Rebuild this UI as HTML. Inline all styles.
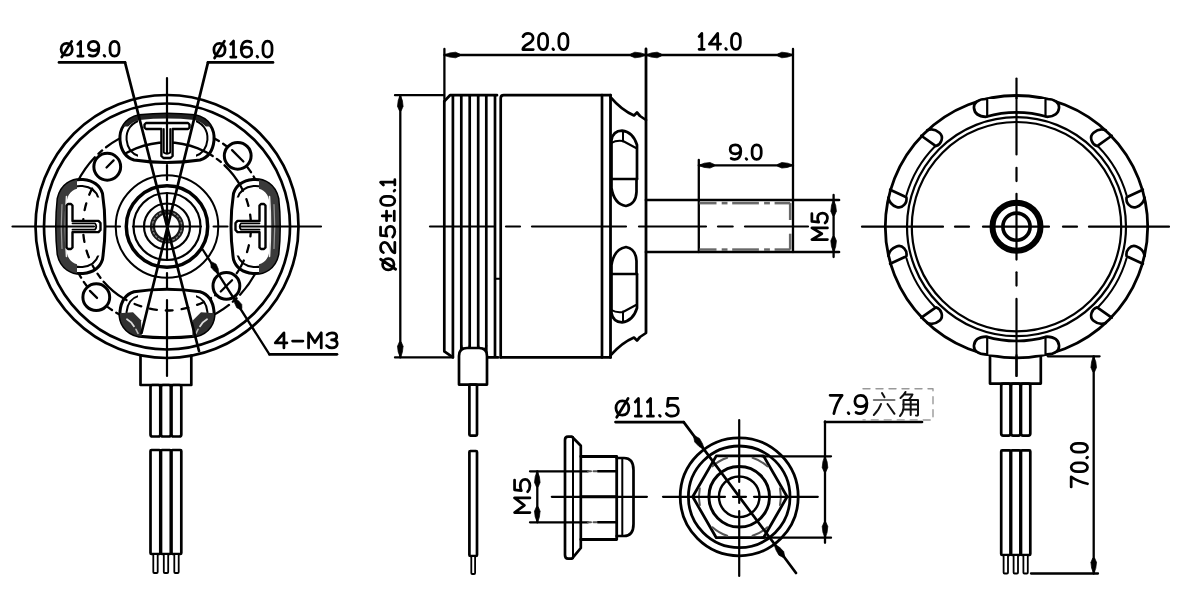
<!DOCTYPE html>
<html><head><meta charset="utf-8"><style>
html,body{margin:0;padding:0;background:#fff;width:1200px;height:602px;overflow:hidden}
svg{display:block}
</style></head><body>
<svg width="1200" height="602" viewBox="0 0 1200 602" stroke="#000" fill="none" stroke-linecap="round" stroke-linejoin="round">
<defs><clipPath id="lc0"><path d="M139 115.5Q167 112.5 195 115.5C209 118.5 215 129.5 214 140.5C213 150.5 208 157.5 200 160Q167 165 134 160C126 157.5 121 150.5 120 140.5C119 129.5 125 118.5 139 115.5Z"/></clipPath><clipPath id="sc0"><path d="M97 166.5 138 166.5 138 106.5 97 106.5ZM237 166.5 196 166.5 196 106.5 237 106.5Z"/></clipPath><clipPath id="hc0"><path d="M107 126.5 227 126.5 227 86.5 107 86.5Z"/></clipPath><clipPath id="lc1"><path d="M58 254.5Q55 226.5 58 198.5C61 184.5 72 178.5 83 179.5C93 180.5 100 185.5 102.5 193.5Q107.5 226.5 102.5 259.5C100 267.5 93 272.5 83 273.5C72 274.5 61 268.5 58 254.5Z"/></clipPath><clipPath id="sc1"><path d="M109 296.5 109 255.5 49 255.5 49 296.5ZM109 156.5 109 197.5 49 197.5 49 156.5Z"/></clipPath><clipPath id="hc1"><path d="M77 286.5 77 166.5 29 166.5 29 286.5Z"/></clipPath><clipPath id="lc2"><path d="M278 198.5Q281 226.5 278 254.5C275 268.5 264 274.5 253 273.5C243 272.5 236 267.5 233.5 259.5Q228.5 226.5 233.5 193.5C236 185.5 243 180.5 253 179.5C264 178.5 275 184.5 278 198.5Z"/></clipPath><clipPath id="sc2"><path d="M227 156.5 227 197.5 287 197.5 287 156.5ZM227 296.5 227 255.5 287 255.5 287 296.5Z"/></clipPath><clipPath id="hc2"><path d="M259 166.5 259 286.5 307 286.5 307 166.5Z"/></clipPath><clipPath id="lc3"><path d="M195 336.3Q167 339.3 139 336.3C125 333.3 119 322.3 120 311.3C121 301.3 126 294.3 134 291.8Q167 286.8 200 291.8C208 294.3 213 301.3 214 311.3C215 322.3 209 333.3 195 336.3Z"/></clipPath><clipPath id="sc3"><path d="M237 285.3 196 285.3 196 345.3 237 345.3ZM97 285.3 138 285.3 138 345.3 97 345.3Z"/></clipPath></defs>
<circle cx="167" cy="226.5" r="131.5" stroke-width="2.7" fill="none" />
<circle cx="167" cy="226.5" r="123" stroke-width="2.7" fill="none" />
<circle cx="167" cy="226.5" r="100" stroke-width="2.3" fill="none" stroke-dasharray="30 5 5 5"/>
<path d="M85.86 204.76A84 84 0 1 0 145.26 145.36" stroke-width="2.3" fill="none" stroke-dasharray="26 5 5 5"/>
<path d="M139 115.5Q167 112.5 195 115.5C209 118.5 215 129.5 214 140.5C213 150.5 208 157.5 200 160Q167 165 134 160C126 157.5 121 150.5 120 140.5C119 129.5 125 118.5 139 115.5Z" stroke-width="3.0" fill="#fff" />
<g clip-path="url(#sc0)"><path d="M142.92 119.46Q167 117 191.08 119.46C203.12 121.92 208.28 130.94 207.42 139.96C206.56 148.16 202.26 153.9 195.38 155.95Q167 160.05 138.62 155.95C131.74 153.9 127.44 148.16 126.58 139.96C125.72 130.94 130.88 121.92 142.92 119.46Z" stroke-width="2" fill="none"/></g>
<g clip-path="url(#lc0)"><g clip-path="url(#hc0)"><path d="M139 115.5Q167 112.5 195 115.5C209 118.5 215 129.5 214 140.5C213 150.5 208 157.5 200 160Q167 165 134 160C126 157.5 121 150.5 120 140.5C119 129.5 125 118.5 139 115.5Z" stroke-width="9" fill="none" stroke="#222"/></g></g>
<g clip-path="url(#lc0)"><circle cx="167" cy="226.5" r="84" stroke-width="2.3" fill="none"/></g>
<path d="M146 123L188 123L189.5 124.5L189.5 127.5L188 129L172.6 129L172.6 156L170.5 158L163.5 158L161.4 156L161.4 129L146 129L144.5 127.5L144.5 124.5Z" stroke-width="2.4" fill="#fff" />
<path d="M163.8 129L163.8 152.5Q167 155 170.2 152.5L170.2 129" stroke-width="1.8" fill="none" />
<path d="M58 254.5Q55 226.5 58 198.5C61 184.5 72 178.5 83 179.5C93 180.5 100 185.5 102.5 193.5Q107.5 226.5 102.5 259.5C100 267.5 93 272.5 83 273.5C72 274.5 61 268.5 58 254.5Z" stroke-width="3.0" fill="#fff" />
<g clip-path="url(#sc1)"><path d="M61.96 250.58Q59.5 226.5 61.96 202.42C64.42 190.38 73.44 185.22 82.46 186.08C90.66 186.94 96.4 191.24 98.45 198.12Q102.55 226.5 98.45 254.88C96.4 261.76 90.66 266.06 82.46 266.92C73.44 267.78 64.42 262.62 61.96 250.58Z" stroke-width="2" fill="none"/></g>
<g clip-path="url(#lc1)"><g clip-path="url(#hc1)"><path d="M58 254.5Q55 226.5 58 198.5C61 184.5 72 178.5 83 179.5C93 180.5 100 185.5 102.5 193.5Q107.5 226.5 102.5 259.5C100 267.5 93 272.5 83 273.5C72 274.5 61 268.5 58 254.5Z" stroke-width="18" fill="none" stroke="#3a3a3a"/></g></g>
<path d="M66.5 256.5Q64.5 226.5 66.5 196.5" stroke-width="1.6" fill="none" stroke="#eee"/>
<path d="M62 248.5Q60.5 226.5 62 204.5" stroke-width="1.2" fill="none" stroke="#999"/>
<g clip-path="url(#lc1)"><circle cx="167" cy="226.5" r="84" stroke-width="2.3" fill="none" stroke-dasharray="7 9" stroke-dashoffset="8"/></g>
<path d="M66.5 247.5L66.5 205.5L68 204L71 204L72.5 205.5L72.5 220.9L98.5 220.9L100.5 223L100.5 230L98.5 232.1L72.5 232.1L72.5 247.5L71 249L68 249Z" stroke-width="2.4" fill="#fff" />
<path d="M72.5 229.7L95 229.7Q97.5 226.5 95 223.3L72.5 223.3" stroke-width="1.8" fill="none" />
<path d="M278 198.5Q281 226.5 278 254.5C275 268.5 264 274.5 253 273.5C243 272.5 236 267.5 233.5 259.5Q228.5 226.5 233.5 193.5C236 185.5 243 180.5 253 179.5C264 178.5 275 184.5 278 198.5Z" stroke-width="3.0" fill="#fff" />
<g clip-path="url(#sc2)"><path d="M274.04 202.42Q276.5 226.5 274.04 250.58C271.58 262.62 262.56 267.78 253.54 266.92C245.34 266.06 239.6 261.76 237.55 254.88Q233.45 226.5 237.55 198.12C239.6 191.24 245.34 186.94 253.54 186.08C262.56 185.22 271.58 190.38 274.04 202.42Z" stroke-width="2" fill="none"/></g>
<g clip-path="url(#lc2)"><g clip-path="url(#hc2)"><path d="M278 198.5Q281 226.5 278 254.5C275 268.5 264 274.5 253 273.5C243 272.5 236 267.5 233.5 259.5Q228.5 226.5 233.5 193.5C236 185.5 243 180.5 253 179.5C264 178.5 275 184.5 278 198.5Z" stroke-width="18" fill="none" stroke="#3a3a3a"/></g></g>
<path d="M269.5 196.5Q271.5 226.5 269.5 256.5" stroke-width="1.6" fill="none" stroke="#eee"/>
<path d="M274 204.5Q275.5 226.5 274 248.5" stroke-width="1.2" fill="none" stroke="#999"/>
<g clip-path="url(#lc2)"><circle cx="167" cy="226.5" r="84" stroke-width="2.3" fill="none" stroke-dasharray="7 9" stroke-dashoffset="13"/></g>
<path d="M265.5 205.5L265.5 247.5L264 249L261 249L259.5 247.5L259.5 232.1L237.5 232.1L235.5 230L235.5 223L237.5 220.9L259.5 220.9L259.5 205.5L261 204L264 204Z" stroke-width="2.4" fill="#fff" />
<path d="M259.5 223.3L241 223.3Q238.5 226.5 241 229.7L259.5 229.7" stroke-width="1.8" fill="none" />
<path d="M195 336.3Q167 339.3 139 336.3C125 333.3 119 322.3 120 311.3C121 301.3 126 294.3 134 291.8Q167 286.8 200 291.8C208 294.3 213 301.3 214 311.3C215 322.3 209 333.3 195 336.3Z" stroke-width="3.0" fill="#fff" />
<g clip-path="url(#sc3)"><path d="M191.08 332.34Q167 334.8 142.92 332.34C130.88 329.88 125.72 320.86 126.58 311.84C127.44 303.64 131.74 297.9 138.62 295.85Q167 291.75 195.38 295.85C202.26 297.9 206.56 303.64 207.42 311.84C208.28 320.86 203.12 329.88 191.08 332.34Z" stroke-width="2" fill="none"/></g>
<g clip-path="url(#lc3)"><path d="M217 313.3L201 312.3L193 320.3L192 341.3L217 341.3Z" fill="#303030" stroke="none"/></g>
<path d="M207 319.3Q202 322.3 200 326.3" stroke-width="1.8" fill="none" stroke="#ddd"/>
<path d="M198 329.3L196 333.3" stroke-width="1.6" fill="none" stroke="#bbb"/>
<g clip-path="url(#lc3)"><path d="M117 313.3L133 312.3L141 320.3L142 341.3L117 341.3Z" fill="#303030" stroke="none"/></g>
<path d="M127 319.3Q132 322.3 134 326.3" stroke-width="1.8" fill="none" stroke="#ddd"/>
<path d="M136 329.3L138 333.3" stroke-width="1.6" fill="none" stroke="#bbb"/>
<g clip-path="url(#lc3)"><circle cx="167" cy="226.5" r="84" stroke-width="2.3" fill="none" stroke-dasharray="7 9" stroke-dashoffset="18"/></g>
<circle cx="107.25" cy="166.75" r="13.4" stroke-width="3" fill="#fff" />
<line x1="106.54" y1="167.46" x2="113.61" y2="160.39" stroke-width="2.3" />
<circle cx="237.71" cy="155.79" r="13.4" stroke-width="3" fill="#fff" />
<line x1="232.05" y1="150.13" x2="243.37" y2="161.45" stroke-width="2.3" />
<circle cx="96.29" cy="297.21" r="13.4" stroke-width="3" fill="#fff" />
<line x1="97" y1="297.92" x2="89.93" y2="290.85" stroke-width="2.3" />
<circle cx="226.4" cy="285.9" r="13.4" stroke-width="3" fill="#fff" />
<line x1="232.05" y1="280.24" x2="220.74" y2="291.55" stroke-width="2.3" />
<circle cx="167" cy="226.5" r="51.3" stroke-width="2.0" fill="none" />
<circle cx="167" cy="226.5" r="40.7" stroke-width="3.5" fill="none" />
<circle cx="167" cy="226.5" r="33.5" stroke-width="2.2" fill="none" />
<circle cx="167" cy="226.5" r="23" stroke-width="2.2" fill="none" />
<circle cx="167" cy="226.5" r="14.5" stroke-width="5.2" fill="none" stroke="#1a1a1a"/>
<circle cx="167" cy="226.5" r="14.7" stroke-width="1.3" fill="none" stroke="#888" stroke-dasharray="1.6 2.2"/>
<line x1="12.5" y1="226.5" x2="94" y2="226.5" stroke-width="2.2" />
<line x1="106" y1="226.5" x2="120" y2="226.5" stroke-width="2.2" />
<line x1="133" y1="226.5" x2="201" y2="226.5" stroke-width="2.2" />
<line x1="213.6" y1="226.5" x2="227.5" y2="226.5" stroke-width="2.2" />
<line x1="240" y1="226.5" x2="321" y2="226.5" stroke-width="2.2" />
<line x1="167" y1="78" x2="167" y2="153" stroke-width="2.2" />
<line x1="167" y1="165" x2="167" y2="180" stroke-width="2.2" />
<line x1="167" y1="193" x2="167" y2="260" stroke-width="2.2" />
<line x1="167" y1="273" x2="167" y2="288" stroke-width="2.2" />
<line x1="167" y1="300" x2="167" y2="376" stroke-width="2.2" />
<line x1="59" y1="62.4" x2="125" y2="62.4" stroke-width="2.7" />
<line x1="125" y1="62.4" x2="199" y2="351" stroke-width="2.7" />
<line x1="208" y1="62.4" x2="273" y2="62.4" stroke-width="2.7" />
<line x1="208" y1="62.4" x2="141.5" y2="333" stroke-width="2.7" />
<g fill="none" stroke="#000" stroke-width="2.75" stroke-linecap="round" stroke-linejoin="round" style="vector-effect:non-scaling-stroke"><path vector-effect="non-scaling-stroke" transform="matrix(16.4085 0 0 14.7500 60.77 56.12)" d="M0.36 -0.86C0.56 -0.86 0.7 -0.7 0.7 -0.46C0.7 -0.22 0.56 -0.06 0.36 -0.06C0.16 -0.06 0.02 -0.22 0.02 -0.46C0.02 -0.7 0.16 -0.86 0.36 -0.86ZM0.06 0.06L0.66 -1"/><path vector-effect="non-scaling-stroke" transform="matrix(16.4085 0 0 14.7500 77.84 56.12)" d="M0 -0.8L0.17 -1V0M0 0H0.32"/><path vector-effect="non-scaling-stroke" transform="matrix(16.4085 0 0 14.7500 88.34 56.12)" d="M0.06 -0.06C0.13 -0.02 0.2 0 0.28 0C0.51 0 0.64 -0.22 0.64 -0.55C0.64 -0.85 0.52 -1 0.31 -1C0.12 -1 0 -0.87 0 -0.68C0 -0.49 0.12 -0.38 0.31 -0.38C0.47 -0.38 0.6 -0.47 0.64 -0.6"/><path vector-effect="non-scaling-stroke" transform="matrix(16.4085 0 0 14.7500 104.09 56.12)" d="M0 -0.05L0.04 0"/><path vector-effect="non-scaling-stroke" transform="matrix(16.4085 0 0 14.7500 110.00 56.12)" d="M0.275 -1C0.45 -1 0.55 -0.82 0.55 -0.6V-0.4C0.55 -0.18 0.45 0 0.275 0C0.1 0 0 -0.18 0 -0.4V-0.6C0 -0.82 0.1 -1 0.275 -1Z"/></g>
<g fill="none" stroke="#000" stroke-width="2.75" stroke-linecap="round" stroke-linejoin="round" style="vector-effect:non-scaling-stroke"><path vector-effect="non-scaling-stroke" transform="matrix(16.4648 0 0 15.9500 213.57 57.02)" d="M0.36 -0.86C0.56 -0.86 0.7 -0.7 0.7 -0.46C0.7 -0.22 0.56 -0.06 0.36 -0.06C0.16 -0.06 0.02 -0.22 0.02 -0.46C0.02 -0.7 0.16 -0.86 0.36 -0.86ZM0.06 0.06L0.66 -1"/><path vector-effect="non-scaling-stroke" transform="matrix(16.4648 0 0 15.9500 230.70 57.02)" d="M0 -0.8L0.17 -1V0M0 0H0.32"/><path vector-effect="non-scaling-stroke" transform="matrix(16.4648 0 0 15.9500 241.24 57.02)" d="M0.58 -0.94C0.51 -0.98 0.44 -1 0.36 -1C0.13 -1 0 -0.78 0 -0.45C0 -0.15 0.12 0 0.33 0C0.52 0 0.64 -0.13 0.64 -0.32C0.64 -0.51 0.52 -0.62 0.33 -0.62C0.17 -0.62 0.04 -0.53 0 -0.4"/><path vector-effect="non-scaling-stroke" transform="matrix(16.4648 0 0 15.9500 257.04 57.02)" d="M0 -0.05L0.04 0"/><path vector-effect="non-scaling-stroke" transform="matrix(16.4648 0 0 15.9500 262.97 57.02)" d="M0.275 -1C0.45 -1 0.55 -0.82 0.55 -0.6V-0.4C0.55 -0.18 0.45 0 0.275 0C0.1 0 0 -0.18 0 -0.4V-0.6C0 -0.82 0.1 -1 0.275 -1Z"/></g>
<line x1="269.4" y1="354.3" x2="337" y2="354.3" stroke-width="2.7" />
<line x1="269.4" y1="354.3" x2="203" y2="250" stroke-width="2.3" />
<path d="M218.61 273.66L214.27 271.03L211.05 267.37L210.87 263.17L212.39 262.21L216.12 264.15L218.07 268.61Z" fill="#000" stroke="#000" stroke-width="0.7" stroke-linejoin="round"/>
<path d="M234.18 298.13L238.52 300.77L241.74 304.42L241.92 308.62L240.4 309.59L236.68 307.64L234.73 303.18Z" fill="#000" stroke="#000" stroke-width="0.7" stroke-linejoin="round"/>
<g fill="none" stroke="#000" stroke-width="2.75" stroke-linecap="round" stroke-linejoin="round" style="vector-effect:non-scaling-stroke"><path vector-effect="non-scaling-stroke" transform="matrix(16.6532 0 0 15.1500 275.27 347.93)" d="M0.52 0V-1L0 -0.33H0.7"/><path vector-effect="non-scaling-stroke" transform="matrix(16.6532 0 0 15.1500 292.26 347.93)" d="M0.02 -0.45H0.64"/><path vector-effect="non-scaling-stroke" transform="matrix(16.6532 0 0 15.1500 308.58 347.93)" d="M0 0V-1L0.38 -0.36L0.76 -1V0"/><path vector-effect="non-scaling-stroke" transform="matrix(16.6532 0 0 15.1500 326.57 347.93)" d="M0.03 -0.86C0.1 -0.96 0.2 -1 0.32 -1C0.5 -1 0.61 -0.9 0.61 -0.75C0.61 -0.61 0.49 -0.53 0.3 -0.53C0.52 -0.53 0.64 -0.42 0.64 -0.27C0.64 -0.1 0.5 0 0.32 0C0.19 0 0.08 -0.05 0 -0.15"/></g>
<path d="M140.5 355.3V385H191.3V355.7" stroke-width="2.7" fill="none" />
<rect x="150.5" y="385" width="9.8" height="51.5" rx="2" stroke-width="2.7" fill="#fff"/>
<rect x="150.5" y="450" width="9.8" height="104" rx="1" stroke-width="2.7" fill="#fff"/>
<rect x="161" y="385" width="9.8" height="51.5" rx="2" stroke-width="2.7" fill="#fff"/>
<rect x="161" y="450" width="9.8" height="104" rx="1" stroke-width="2.7" fill="#fff"/>
<rect x="171.5" y="385" width="9.8" height="51.5" rx="2" stroke-width="2.7" fill="#fff"/>
<rect x="171.5" y="450" width="9.8" height="104" rx="1" stroke-width="2.7" fill="#fff"/>
<rect x="153.3" y="554" width="4.4" height="19" rx="1" stroke-width="1.8" fill="#fff"/>
<rect x="163.8" y="554" width="4.4" height="19" rx="1" stroke-width="1.8" fill="#fff"/>
<rect x="174.3" y="554" width="4.4" height="19" rx="1" stroke-width="1.8" fill="#fff"/>
<line x1="444.4" y1="49" x2="444.4" y2="99.2" stroke-width="2.3" />
<line x1="646" y1="49" x2="646" y2="332" stroke-width="2.8" />
<line x1="793" y1="49" x2="793" y2="252" stroke-width="2.3" />
<line x1="444.4" y1="55" x2="646" y2="55" stroke-width="2.3" />
<path d="M444.4 55L449.82 52.9L455.56 52.2L459.9 54.1L459.9 55.9L455.56 57.8L449.82 57.1Z" fill="#000" stroke="#000" stroke-width="0.7" stroke-linejoin="round"/>
<path d="M646 55L640.58 57.1L634.84 57.8L630.5 55.9L630.5 54.1L634.84 52.2L640.58 52.9Z" fill="#000" stroke="#000" stroke-width="0.7" stroke-linejoin="round"/>
<line x1="646" y1="55" x2="793" y2="55" stroke-width="2.3" />
<path d="M646 55L651.42 52.9L657.16 52.2L661.5 54.1L661.5 55.9L657.16 57.8L651.42 57.1Z" fill="#000" stroke="#000" stroke-width="0.7" stroke-linejoin="round"/>
<path d="M793 55L787.58 57.1L781.84 57.8L777.5 55.9L777.5 54.1L781.84 52.2L787.58 52.9Z" fill="#000" stroke="#000" stroke-width="0.7" stroke-linejoin="round"/>
<g fill="none" stroke="#000" stroke-width="2.75" stroke-linecap="round" stroke-linejoin="round" style="vector-effect:non-scaling-stroke"><path vector-effect="non-scaling-stroke" transform="matrix(16.5146 0 0 16.2500 522.67 49.62)" d="M0.02 -0.8C0.08 -0.94 0.2 -1 0.33 -1C0.51 -1 0.63 -0.88 0.63 -0.71C0.63 -0.52 0.48 -0.43 0.3 -0.33C0.1 -0.22 0.01 -0.12 0.01 0H0.64"/><path vector-effect="non-scaling-stroke" transform="matrix(16.5146 0 0 16.2500 538.53 49.62)" d="M0.275 -1C0.45 -1 0.55 -0.82 0.55 -0.6V-0.4C0.55 -0.18 0.45 0 0.275 0C0.1 0 0 -0.18 0 -0.4V-0.6C0 -0.82 0.1 -1 0.275 -1Z"/><path vector-effect="non-scaling-stroke" transform="matrix(16.5146 0 0 16.2500 552.90 49.62)" d="M0 -0.05L0.04 0"/><path vector-effect="non-scaling-stroke" transform="matrix(16.5146 0 0 16.2500 558.84 49.62)" d="M0.275 -1C0.45 -1 0.55 -0.82 0.55 -0.6V-0.4C0.55 -0.18 0.45 0 0.275 0C0.1 0 0 -0.18 0 -0.4V-0.6C0 -0.82 0.1 -1 0.275 -1Z"/></g>
<g fill="none" stroke="#000" stroke-width="2.75" stroke-linecap="round" stroke-linejoin="round" style="vector-effect:non-scaling-stroke"><path vector-effect="non-scaling-stroke" transform="matrix(16.0506 0 0 15.9500 699.08 49.33)" d="M0 -0.8L0.17 -1V0M0 0H0.32"/><path vector-effect="non-scaling-stroke" transform="matrix(16.0506 0 0 15.9500 709.35 49.33)" d="M0.52 0V-1L0 -0.33H0.7"/><path vector-effect="non-scaling-stroke" transform="matrix(16.0506 0 0 15.9500 725.72 49.33)" d="M0 -0.05L0.04 0"/><path vector-effect="non-scaling-stroke" transform="matrix(16.0506 0 0 15.9500 731.50 49.33)" d="M0.275 -1C0.45 -1 0.55 -0.82 0.55 -0.6V-0.4C0.55 -0.18 0.45 0 0.275 0C0.1 0 0 -0.18 0 -0.4V-0.6C0 -0.82 0.1 -1 0.275 -1Z"/></g>
<line x1="698.8" y1="160" x2="698.8" y2="252" stroke-width="2.3" />
<line x1="698.8" y1="165.3" x2="793" y2="165.3" stroke-width="2.3" />
<path d="M698.8 165.3L704.22 163.2L709.96 162.5L714.3 164.4L714.3 166.2L709.96 168.1L704.22 167.4Z" fill="#000" stroke="#000" stroke-width="0.7" stroke-linejoin="round"/>
<path d="M793 165.3L787.58 167.4L781.84 168.1L777.5 166.2L777.5 164.4L781.84 162.5L787.58 163.2Z" fill="#000" stroke="#000" stroke-width="0.7" stroke-linejoin="round"/>
<g fill="none" stroke="#000" stroke-width="2.75" stroke-linecap="round" stroke-linejoin="round" style="vector-effect:non-scaling-stroke"><path vector-effect="non-scaling-stroke" transform="matrix(16.6043 0 0 14.4500 730.17 159.32)" d="M0.06 -0.06C0.13 -0.02 0.2 0 0.28 0C0.51 0 0.64 -0.22 0.64 -0.55C0.64 -0.85 0.52 -1 0.31 -1C0.12 -1 0 -0.87 0 -0.68C0 -0.49 0.12 -0.38 0.31 -0.38C0.47 -0.38 0.6 -0.47 0.64 -0.6"/><path vector-effect="non-scaling-stroke" transform="matrix(16.6043 0 0 14.4500 746.12 159.32)" d="M0 -0.05L0.04 0"/><path vector-effect="non-scaling-stroke" transform="matrix(16.6043 0 0 14.4500 752.09 159.32)" d="M0.275 -1C0.45 -1 0.55 -0.82 0.55 -0.6V-0.4C0.55 -0.18 0.45 0 0.275 0C0.1 0 0 -0.18 0 -0.4V-0.6C0 -0.82 0.1 -1 0.275 -1Z"/></g>
<line x1="395" y1="95.2" x2="444" y2="95.2" stroke-width="2.3" />
<line x1="395" y1="357.4" x2="453" y2="357.4" stroke-width="2.3" />
<line x1="400.3" y1="95.2" x2="400.3" y2="357.4" stroke-width="2.3" />
<path d="M400.3 95.2L402.4 100.62L403.1 106.36L401.2 110.7L399.4 110.7L397.5 106.36L398.2 100.62Z" fill="#000" stroke="#000" stroke-width="0.7" stroke-linejoin="round"/>
<path d="M400.3 357.4L398.2 351.97L397.5 346.24L399.4 341.9L401.2 341.9L403.1 346.24L402.4 351.97Z" fill="#000" stroke="#000" stroke-width="0.7" stroke-linejoin="round"/>
<g fill="none" stroke="#000" stroke-width="2.75" stroke-linecap="round" stroke-linejoin="round" style="vector-effect:non-scaling-stroke"><path vector-effect="non-scaling-stroke" transform="matrix(0 -16.6147 14.2500 0 394.82 270.23)" d="M0.36 -0.86C0.56 -0.86 0.7 -0.7 0.7 -0.46C0.7 -0.22 0.56 -0.06 0.36 -0.06C0.16 -0.06 0.02 -0.22 0.02 -0.46C0.02 -0.7 0.16 -0.86 0.36 -0.86ZM0.06 0.06L0.66 -1"/><path vector-effect="non-scaling-stroke" transform="matrix(0 -16.6147 14.2500 0 394.82 252.95)" d="M0.02 -0.8C0.08 -0.94 0.2 -1 0.33 -1C0.51 -1 0.63 -0.88 0.63 -0.71C0.63 -0.52 0.48 -0.43 0.3 -0.33C0.1 -0.22 0.01 -0.12 0.01 0H0.64"/><path vector-effect="non-scaling-stroke" transform="matrix(0 -16.6147 14.2500 0 394.82 237.00)" d="M0.6 -1H0.1L0.06 -0.56C0.14 -0.61 0.23 -0.63 0.33 -0.63C0.52 -0.63 0.64 -0.49 0.64 -0.31C0.64 -0.12 0.5 0 0.31 0C0.19 0 0.08 -0.05 0 -0.15"/><path vector-effect="non-scaling-stroke" transform="matrix(0 -16.6147 14.2500 0 394.82 221.05)" d="M0.31 -0.88V-0.28M0.02 -0.58H0.6M0.02 -0.04H0.6"/><path vector-effect="non-scaling-stroke" transform="matrix(0 -16.6147 14.2500 0 394.82 205.43)" d="M0.275 -1C0.45 -1 0.55 -0.82 0.55 -0.6V-0.4C0.55 -0.18 0.45 0 0.275 0C0.1 0 0 -0.18 0 -0.4V-0.6C0 -0.82 0.1 -1 0.275 -1Z"/><path vector-effect="non-scaling-stroke" transform="matrix(0 -16.6147 14.2500 0 394.82 190.97)" d="M0 -0.05L0.04 0"/><path vector-effect="non-scaling-stroke" transform="matrix(0 -16.6147 14.2500 0 394.82 184.99)" d="M0 -0.8L0.17 -1V0M0 0H0.32"/></g>
<path d="M444.3 101.2L450 95.2H497" stroke-width="2.7" fill="none" />
<path d="M444.3 101.2V351.4L452.9 357.4" stroke-width="2.7" fill="none" />
<line x1="452.9" y1="96.2" x2="452.9" y2="356.4" stroke-width="2.7" />
<line x1="461.3" y1="96.2" x2="461.3" y2="356.4" stroke-width="2.7" />
<line x1="469.7" y1="96.2" x2="469.7" y2="356.4" stroke-width="2.7" />
<line x1="478.2" y1="96.2" x2="478.2" y2="356.4" stroke-width="2.7" />
<line x1="486.3" y1="96.2" x2="486.3" y2="356.4" stroke-width="2.7" />
<line x1="495" y1="96.2" x2="495" y2="356.4" stroke-width="2.7" />
<path d="M461.3 345.4Q461.3 349.4 465.5 349.4Q469.7 349.4 469.7 345.4" stroke-width="2.0" fill="none" />
<path d="M478.2 345.4Q478.2 349.4 482.25 349.4Q486.3 349.4 486.3 345.4" stroke-width="2.0" fill="none" />
<path d="M487 357.4H498" stroke-width="2.7" fill="none" />
<line x1="495" y1="278.7" x2="500.7" y2="278.7" stroke-width="2.0" />
<path d="M500.7 357.4V98.2Q500.7 95.2 503.7 95.2H610.5" stroke-width="2.7" fill="none" />
<line x1="500.7" y1="357.4" x2="610.5" y2="357.4" stroke-width="2.7" />
<line x1="602" y1="95.2" x2="602" y2="357.4" stroke-width="2.7" />
<line x1="610.5" y1="95.2" x2="610.5" y2="357.4" stroke-width="2.8" />
<path d="M610.5 97.2C618 106 628 113 634 115.5L637 112.5L640 116L646 120" stroke-width="2.7" fill="none" />
<path d="M610.5 355.4C618 347.0 628 340.0 634 337.5L637 340.5L640 337.0L646 333.0" stroke-width="2.7" fill="none" />
<path d="M611.5 179V140Q613 131 622 130.7Q633 132 637 145V179" stroke-width="2.7" fill="none" />
<line x1="611.5" y1="179" x2="637" y2="179" stroke-width="2.7" />
<path d="M611.5 179V188Q614 204 626 206Q636 204 636.5 192V179" stroke-width="2.7" fill="none" />
<path d="M611.5 143Q616 140 623 141L636 148" stroke-width="2.0" fill="none" />
<line x1="623" y1="131" x2="623" y2="141.5" stroke-width="2.0" />
<path d="M611.5 274.0V313.0Q613 322.0 622 322.3Q633 321.0 637 308.0V274.0" stroke-width="2.7" fill="none" />
<line x1="611.5" y1="274" x2="637" y2="274" stroke-width="2.7" />
<path d="M611.5 274.0V265.0Q614 249.0 626 247.0Q636 249.0 636.5 261.0V274.0" stroke-width="2.7" fill="none" />
<path d="M611.5 310.0Q616 313.0 623 312.0L636 305.0" stroke-width="2.0" fill="none" />
<line x1="623" y1="322" x2="623" y2="311.5" stroke-width="2.0" />
<line x1="646" y1="200" x2="839" y2="200" stroke-width="2.7" />
<line x1="646" y1="252" x2="839" y2="252" stroke-width="2.7" />
<line x1="430" y1="226.5" x2="494" y2="226.5" stroke-width="2.2" />
<line x1="506" y1="226.5" x2="520" y2="226.5" stroke-width="2.2" />
<line x1="532" y1="226.5" x2="626" y2="226.5" stroke-width="2.2" />
<line x1="639" y1="226.5" x2="706" y2="226.5" stroke-width="2.2" />
<line x1="718" y1="226.5" x2="732.7" y2="226.5" stroke-width="2.2" />
<line x1="745" y1="226.5" x2="808" y2="226.5" stroke-width="2.2" />
<line x1="699.5" y1="203.1" x2="716.5" y2="203.1" stroke-width="2.6" stroke="#6a6a6a" stroke-linecap="butt"/>
<line x1="721.7" y1="203.1" x2="727.5" y2="203.1" stroke-width="2.6" stroke="#6a6a6a" stroke-linecap="butt"/>
<line x1="732.2" y1="203.1" x2="758.9" y2="203.1" stroke-width="2.6" stroke="#6a6a6a" stroke-linecap="butt"/>
<line x1="764.1" y1="203.1" x2="769.9" y2="203.1" stroke-width="2.6" stroke="#6a6a6a" stroke-linecap="butt"/>
<line x1="774.6" y1="203.1" x2="790.2" y2="203.1" stroke-width="2.6" stroke="#6a6a6a" stroke-linecap="butt"/>
<line x1="699.5" y1="249.6" x2="716.5" y2="249.6" stroke-width="2.6" stroke="#6a6a6a" stroke-linecap="butt"/>
<line x1="721.7" y1="249.6" x2="727.5" y2="249.6" stroke-width="2.6" stroke="#6a6a6a" stroke-linecap="butt"/>
<line x1="732.2" y1="249.6" x2="758.9" y2="249.6" stroke-width="2.6" stroke="#6a6a6a" stroke-linecap="butt"/>
<line x1="764.1" y1="249.6" x2="769.9" y2="249.6" stroke-width="2.6" stroke="#6a6a6a" stroke-linecap="butt"/>
<line x1="774.6" y1="249.6" x2="790.2" y2="249.6" stroke-width="2.6" stroke="#6a6a6a" stroke-linecap="butt"/>
<line x1="790.2" y1="203.1" x2="790.2" y2="220" stroke-width="2.6" stroke="#6a6a6a" stroke-linecap="butt"/>
<line x1="790.2" y1="233.7" x2="790.2" y2="249.6" stroke-width="2.6" stroke="#6a6a6a" stroke-linecap="butt"/>
<line x1="833.6" y1="195" x2="833.6" y2="257" stroke-width="2.3" />
<path d="M833.6 200L835.7 205.43L836.4 211.16L834.5 215.5L832.7 215.5L830.8 211.16L831.5 205.43Z" fill="#000" stroke="#000" stroke-width="0.7" stroke-linejoin="round"/>
<path d="M833.6 252L831.5 246.57L830.8 240.84L832.7 236.5L834.5 236.5L836.4 240.84L835.7 246.57Z" fill="#000" stroke="#000" stroke-width="0.7" stroke-linejoin="round"/>
<g fill="none" stroke="#000" stroke-width="2.75" stroke-linecap="round" stroke-linejoin="round" style="vector-effect:non-scaling-stroke"><path vector-effect="non-scaling-stroke" transform="matrix(0 -15.4360 15.5500 0 827.42 239.62)" d="M0 0V-1L0.38 -0.36L0.76 -1V0"/><path vector-effect="non-scaling-stroke" transform="matrix(0 -15.4360 15.5500 0 827.42 222.95)" d="M0.6 -1H0.1L0.06 -0.56C0.14 -0.61 0.23 -0.63 0.33 -0.63C0.52 -0.63 0.64 -0.49 0.64 -0.31C0.64 -0.12 0.5 0 0.31 0C0.19 0 0.08 -0.05 0 -0.15"/></g>
<path d="M459 356V384.6H487V356Q487 348 479 348H467Q459 348 459 356Z" stroke-width="2.7" fill="#fff" />
<rect x="469.4" y="384.6" width="7.6" height="51" rx="1" stroke-width="2.7" fill="#fff"/>
<rect x="469.4" y="451" width="7.6" height="105" rx="1" stroke-width="2.7" fill="#fff"/>
<rect x="471.3" y="556" width="3.8" height="18" rx="1" stroke-width="1.8" fill="#fff"/>
<path d="M565 440Q565 436.7 568 436.7H572L580.8 445.7V548L572 558.6H568Q565 558.6 565 555Z" stroke-width="2.7" fill="none" />
<line x1="573" y1="437" x2="573" y2="558.3" stroke-width="2.0" />
<path d="M580.8 456.5H616.7V539.5H580.8" stroke-width="2.8" fill="none" />
<line x1="580.8" y1="496.8" x2="616.7" y2="496.8" stroke-width="3.0" />
<path d="M616.7 458H624Q633.5 458 633.5 470V524Q633.5 536 624 536H616.7" stroke-width="2.7" fill="none" />
<line x1="622.3" y1="458" x2="622.3" y2="536" stroke-width="2.0" />
<line x1="551.8" y1="496.8" x2="646.9" y2="496.8" stroke-width="2.2" />
<line x1="530" y1="471.3" x2="588" y2="471.3" stroke-width="2.3" />
<line x1="598" y1="471.3" x2="616.7" y2="471.3" stroke-width="2.6" />
<path d="M588 471.3H598" stroke="#555" stroke-width="2" stroke-dasharray="3 2.5"/>
<line x1="530" y1="522.3" x2="588" y2="522.3" stroke-width="2.3" />
<line x1="598" y1="522.3" x2="616.7" y2="522.3" stroke-width="2.6" />
<path d="M588 522.3H598" stroke="#555" stroke-width="2" stroke-dasharray="3 2.5"/>
<line x1="537.3" y1="471.3" x2="537.3" y2="522.3" stroke-width="2.3" />
<path d="M537.3 471.3L539.4 476.73L540.1 482.46L538.2 486.8L536.4 486.8L534.5 482.46L535.2 476.73Z" fill="#000" stroke="#000" stroke-width="0.7" stroke-linejoin="round"/>
<path d="M537.3 522.3L535.2 516.88L534.5 511.14L536.4 506.8L538.2 506.8L540.1 511.14L539.4 516.88Z" fill="#000" stroke="#000" stroke-width="0.7" stroke-linejoin="round"/>
<g fill="none" stroke="#000" stroke-width="2.75" stroke-linecap="round" stroke-linejoin="round" style="vector-effect:non-scaling-stroke"><path vector-effect="non-scaling-stroke" transform="matrix(0 -19.3314 15.3500 0 529.92 512.62)" d="M0 0V-1L0.38 -0.36L0.76 -1V0"/><path vector-effect="non-scaling-stroke" transform="matrix(0 -19.3314 15.3500 0 529.92 491.75)" d="M0.6 -1H0.1L0.06 -0.56C0.14 -0.61 0.23 -0.63 0.33 -0.63C0.52 -0.63 0.64 -0.49 0.64 -0.31C0.64 -0.12 0.5 0 0.31 0C0.19 0 0.08 -0.05 0 -0.15"/></g>
<circle cx="739.2" cy="496.8" r="59" stroke-width="2.8" fill="none" />
<circle cx="739.2" cy="496.8" r="50.8" stroke-width="2.8" fill="none" />
<path d="M787.1 496.8L763.5 455.92L716.3 455.92L692.7 496.8L716.3 537.68L763.5 537.68Z" stroke-width="2.8" fill="none" />
<path d="M780 505.32A41 41 0 0 0 780 488.28" stroke-width="2.0" fill="none" stroke="#555"/>
<path d="M767.33 466.33A41 41 0 0 0 752.57 457.81" stroke-width="2.0" fill="none" stroke="#555"/>
<path d="M727.23 457.81A41 41 0 0 0 712.47 466.33" stroke-width="2.0" fill="none" stroke="#555"/>
<path d="M699.8 488.28A41 41 0 0 0 699.8 505.32" stroke-width="2.0" fill="none" stroke="#555"/>
<path d="M712.47 527.27A41 41 0 0 0 727.23 535.79" stroke-width="2.0" fill="none" stroke="#555"/>
<path d="M752.57 535.79A41 41 0 0 0 767.33 527.27" stroke-width="2.0" fill="none" stroke="#555"/>
<circle cx="739.2" cy="496.8" r="30.3" stroke-width="3.0" fill="none" />
<circle cx="739.2" cy="496.8" r="20.3" stroke-width="2.4" fill="none" />
<line x1="663" y1="496.8" x2="725" y2="496.8" stroke-width="2.2" />
<line x1="733" y1="496.8" x2="746" y2="496.8" stroke-width="2.2" />
<line x1="754" y1="496.8" x2="817.8" y2="496.8" stroke-width="2.2" />
<line x1="739.2" y1="420" x2="739.2" y2="482" stroke-width="2.2" />
<line x1="739.2" y1="490" x2="739.2" y2="503" stroke-width="2.2" />
<line x1="739.2" y1="511" x2="739.2" y2="576" stroke-width="2.2" />
<line x1="615.5" y1="422.1" x2="683.7" y2="422.1" stroke-width="2.7" />
<line x1="683.7" y1="422.1" x2="796" y2="573" stroke-width="2.7" />
<path d="M703.99 449.46L698.85 446.31L694.71 442.01L693.72 437.16L695.17 436.09L699.53 438.43L702.46 443.63Z" fill="#000" stroke="#000" stroke-width="0.7" stroke-linejoin="round"/>
<path d="M774.41 544.14L779.55 547.29L783.69 551.59L784.68 556.44L783.23 557.51L778.87 555.17L775.94 549.97Z" fill="#000" stroke="#000" stroke-width="0.7" stroke-linejoin="round"/>
<g fill="none" stroke="#000" stroke-width="2.75" stroke-linecap="round" stroke-linejoin="round" style="vector-effect:non-scaling-stroke"><path vector-effect="non-scaling-stroke" transform="matrix(18.9307 0 0 17.7500 615.58 416.23)" d="M0.36 -0.86C0.56 -0.86 0.7 -0.7 0.7 -0.46C0.7 -0.22 0.56 -0.06 0.36 -0.06C0.16 -0.06 0.02 -0.22 0.02 -0.46C0.02 -0.7 0.16 -0.86 0.36 -0.86ZM0.06 0.06L0.66 -1"/><path vector-effect="non-scaling-stroke" transform="matrix(18.9307 0 0 17.7500 635.26 416.23)" d="M0 -0.8L0.17 -1V0M0 0H0.32"/><path vector-effect="non-scaling-stroke" transform="matrix(18.9307 0 0 17.7500 647.38 416.23)" d="M0 -0.8L0.17 -1V0M0 0H0.32"/><path vector-effect="non-scaling-stroke" transform="matrix(18.9307 0 0 17.7500 659.49 416.23)" d="M0 -0.05L0.04 0"/><path vector-effect="non-scaling-stroke" transform="matrix(18.9307 0 0 17.7500 666.31 416.23)" d="M0.6 -1H0.1L0.06 -0.56C0.14 -0.61 0.23 -0.63 0.33 -0.63C0.52 -0.63 0.64 -0.49 0.64 -0.31C0.64 -0.12 0.5 0 0.31 0C0.19 0 0.08 -0.05 0 -0.15"/></g>
<line x1="762" y1="456.3" x2="831" y2="456.3" stroke-width="2.3" />
<line x1="762" y1="537.7" x2="831" y2="537.7" stroke-width="2.3" />
<line x1="825" y1="421.5" x2="825" y2="542.8" stroke-width="2.3" />
<path d="M825 456.3L827.1 461.73L827.8 467.46L825.9 471.8L824.1 471.8L822.2 467.46L822.9 461.73Z" fill="#000" stroke="#000" stroke-width="0.7" stroke-linejoin="round"/>
<path d="M825 537.7L822.9 532.28L822.2 526.54L824.1 522.2L825.9 522.2L827.8 526.54L827.1 532.28Z" fill="#000" stroke="#000" stroke-width="0.7" stroke-linejoin="round"/>
<line x1="825" y1="422" x2="922" y2="422" stroke-width="2.7" />
<g fill="none" stroke="#000" stroke-width="2.75" stroke-linecap="round" stroke-linejoin="round" style="vector-effect:non-scaling-stroke"><path vector-effect="non-scaling-stroke" transform="matrix(18.8010 0 0 18.2500 830.08 413.62)" d="M0 -1H0.64C0.42 -0.72 0.28 -0.37 0.2 0"/><path vector-effect="non-scaling-stroke" transform="matrix(18.8010 0 0 18.2500 848.12 413.62)" d="M0 -0.05L0.04 0"/><path vector-effect="non-scaling-stroke" transform="matrix(18.8010 0 0 18.2500 854.89 413.62)" d="M0.06 -0.06C0.13 -0.02 0.2 0 0.28 0C0.51 0 0.64 -0.22 0.64 -0.55C0.64 -0.85 0.52 -1 0.31 -1C0.12 -1 0 -0.87 0 -0.68C0 -0.49 0.12 -0.38 0.31 -0.38C0.47 -0.38 0.6 -0.47 0.64 -0.6"/></g>
<g stroke="#111" stroke-width="2" fill="none" stroke-linecap="round"><path d="M882 393L884.5 397.2"/><path d="M873.8 400H894.5" stroke="#777"/><path d="M881 404Q879 410 873.8 415"/><path d="M887.5 404Q891 409 894.5 413.8"/><path d="M905.5 392Q904 395 900.5 398M905 394.5H912.5Q911.5 397 909.5 399"/><path d="M903.5 400V408Q903 413 900 416M903.5 400H918V414.5Q918 416 916 415.5"/><path d="M903.5 404.5H918M903.5 409.5H918M910.7 400V415"/></g>
<path d="M863 388.8H933V420H863" stroke="#999" stroke-width="1.4" stroke-dasharray="7 6" fill="none"/>
<circle cx="1016.5" cy="226.7" r="131.2" stroke-width="2.8" fill="none" />
<circle cx="1016.5" cy="226.7" r="109.5" stroke-width="2.2" fill="none" />
<circle cx="1016.5" cy="226.7" r="104.7" stroke-width="2.2" fill="none" />
<line x1="862" y1="226.7" x2="943" y2="226.7" stroke-width="2.2" />
<line x1="955" y1="226.7" x2="969" y2="226.7" stroke-width="2.2" />
<line x1="983" y1="226.7" x2="1049" y2="226.7" stroke-width="2.2" />
<line x1="1063" y1="226.7" x2="1077" y2="226.7" stroke-width="2.2" />
<line x1="1089" y1="226.7" x2="1169" y2="226.7" stroke-width="2.2" />
<line x1="1016.5" y1="78.6" x2="1016.5" y2="154.5" stroke-width="2.2" />
<line x1="1016.5" y1="167.8" x2="1016.5" y2="181.1" stroke-width="2.2" />
<line x1="1016.5" y1="193.8" x2="1016.5" y2="259.6" stroke-width="2.2" />
<line x1="1016.5" y1="272.3" x2="1016.5" y2="285.6" stroke-width="2.2" />
<line x1="1016.5" y1="298.9" x2="1016.5" y2="376" stroke-width="2.2" />
<circle cx="1016.5" cy="226.7" r="24" stroke-width="6" fill="none" />
<circle cx="1016.5" cy="226.7" r="13.6" stroke-width="3.6" fill="none" />
<path d="M986 99C978 99 973.5 103 974 108C974.5 114 979 116.5 986 116.8Q1016.5 108 1047 116.8C1054 116.5 1058.5 114 1059 108C1059.5 103 1055 99 1047 99" stroke-width="2.7" fill="#fff" />
<line x1="987.2" y1="98.5" x2="987.2" y2="116.5" stroke-width="2.2" />
<line x1="1045.5" y1="98.5" x2="1045.5" y2="116.5" stroke-width="2.2" />
<line x1="1016.5" y1="96" x2="1016.5" y2="113" stroke-width="2.0" />
<path d="M986 354.4C978 354.4 973.5 350.4 974 345.4C974.5 339.4 979 336.9 986 336.59999999999997Q1016.5 345.4 1047 336.59999999999997C1054 336.9 1058.5 339.4 1059 345.4C1059.5 350.4 1055 354.4 1047 354.4" stroke-width="2.7" fill="#fff" />
<line x1="987.2" y1="354.9" x2="987.2" y2="336.9" stroke-width="2.2" />
<line x1="1045.5" y1="354.9" x2="1045.5" y2="336.9" stroke-width="2.2" />
<line x1="1016.5" y1="357.4" x2="1016.5" y2="340.4" stroke-width="2.0" />
<path d="M1126.56 195.14A114.5 114.5 0 0 0 1098.17 146.45" stroke-width="2.0" fill="none" />
<path d="M934.83 146.45A114.5 114.5 0 0 0 906.44 195.14" stroke-width="2.0" fill="none" />
<path d="M906.44 258.26A114.5 114.5 0 0 0 934.83 306.95" stroke-width="2.0" fill="none" />
<path d="M1098.17 306.95A114.5 114.5 0 0 0 1126.56 258.26" stroke-width="2.0" fill="none" />
<path d="M1142.84 189.74 1126.62 197.19C1125.49 202.67 1130.33 209.14 1136.48 206.97C1141.67 205.07 1144.14 200.78 1144.62 197.55" stroke-width="2.7" fill="none" />
<path d="M1142.84 263.66 1126.62 256.21C1125.49 250.73 1130.33 244.26 1136.48 246.43C1141.67 248.33 1144.14 252.62 1144.62 255.85" stroke-width="2.7" fill="none" />
<path d="M1111.68 135.77 1097.11 146.09C1091.81 144.32 1088.62 136.9 1093.57 132.65C1097.82 129.12 1102.77 129.12 1105.81 130.32" stroke-width="2.7" fill="none" />
<path d="M1111.68 317.63 1097.11 307.31C1091.81 309.08 1088.62 316.5 1093.57 320.75C1097.82 324.28 1102.77 324.28 1105.81 323.08" stroke-width="2.7" fill="none" />
<path d="M890.16 189.74 906.38 197.19C907.51 202.67 902.67 209.14 896.52 206.97C891.33 205.07 888.86 200.78 888.38 197.55" stroke-width="2.7" fill="none" />
<path d="M890.16 263.66 906.38 256.21C907.51 250.73 902.67 244.26 896.52 246.43C891.33 248.33 888.86 252.62 888.38 255.85" stroke-width="2.7" fill="none" />
<path d="M921.32 135.77 935.89 146.09C941.19 144.32 944.38 136.9 939.43 132.65C935.18 129.12 930.23 129.12 927.19 130.32" stroke-width="2.7" fill="none" />
<path d="M921.32 317.63 935.89 307.31C941.19 309.08 944.38 316.5 939.43 320.75C935.18 324.28 930.23 324.28 927.19 323.08" stroke-width="2.7" fill="none" />
<path d="M990 357V383.6H1040.8V357" stroke-width="2.7" fill="none" />
<rect x="1001.2" y="383.6" width="9.3" height="52" rx="2" stroke-width="2.7" fill="#fff"/>
<rect x="1001.2" y="450.4" width="9.3" height="104.6" rx="1" stroke-width="2.7" fill="#fff"/>
<rect x="1011.1" y="383.6" width="9.3" height="52" rx="2" stroke-width="2.7" fill="#fff"/>
<rect x="1011.1" y="450.4" width="9.3" height="104.6" rx="1" stroke-width="2.7" fill="#fff"/>
<rect x="1021" y="383.6" width="9.3" height="52" rx="2" stroke-width="2.7" fill="#fff"/>
<rect x="1021" y="450.4" width="9.3" height="104.6" rx="1" stroke-width="2.7" fill="#fff"/>
<rect x="1003.5999999999999" y="555" width="4.4" height="18.5" rx="1" stroke-width="1.8" fill="#fff"/>
<rect x="1013.5999999999999" y="555" width="4.4" height="18.5" rx="1" stroke-width="1.8" fill="#fff"/>
<rect x="1023.3999999999999" y="555" width="4.4" height="18.5" rx="1" stroke-width="1.8" fill="#fff"/>
<line x1="1016.5" y1="357" x2="1016.5" y2="376" stroke-width="2.2" />
<line x1="1047.8" y1="356.3" x2="1099.6" y2="356.3" stroke-width="2.3" />
<line x1="1031" y1="573.5" x2="1098" y2="573.5" stroke-width="2.3" />
<line x1="1093.7" y1="356.3" x2="1093.7" y2="573.5" stroke-width="2.3" />
<path d="M1093.7 356.3L1095.8 361.73L1096.5 367.46L1094.6 371.8L1092.8 371.8L1090.9 367.46L1091.6 361.73Z" fill="#000" stroke="#000" stroke-width="0.7" stroke-linejoin="round"/>
<path d="M1093.7 573.5L1091.6 568.08L1090.9 562.34L1092.8 558L1094.6 558L1096.5 562.34L1095.8 568.08Z" fill="#000" stroke="#000" stroke-width="0.7" stroke-linejoin="round"/>
<g fill="none" stroke="#000" stroke-width="2.75" stroke-linecap="round" stroke-linejoin="round" style="vector-effect:non-scaling-stroke"><path vector-effect="non-scaling-stroke" transform="matrix(0 -15.8942 16.3500 0 1087.53 486.93)" d="M0 -1H0.64C0.42 -0.72 0.28 -0.37 0.2 0"/><path vector-effect="non-scaling-stroke" transform="matrix(0 -15.8942 16.3500 0 1087.53 471.67)" d="M0.275 -1C0.45 -1 0.55 -0.82 0.55 -0.6V-0.4C0.55 -0.18 0.45 0 0.275 0C0.1 0 0 -0.18 0 -0.4V-0.6C0 -0.82 0.1 -1 0.275 -1Z"/><path vector-effect="non-scaling-stroke" transform="matrix(0 -15.8942 16.3500 0 1087.53 457.84)" d="M0 -0.05L0.04 0"/><path vector-effect="non-scaling-stroke" transform="matrix(0 -15.8942 16.3500 0 1087.53 452.12)" d="M0.275 -1C0.45 -1 0.55 -0.82 0.55 -0.6V-0.4C0.55 -0.18 0.45 0 0.275 0C0.1 0 0 -0.18 0 -0.4V-0.6C0 -0.82 0.1 -1 0.275 -1Z"/></g>
</svg></body></html>
